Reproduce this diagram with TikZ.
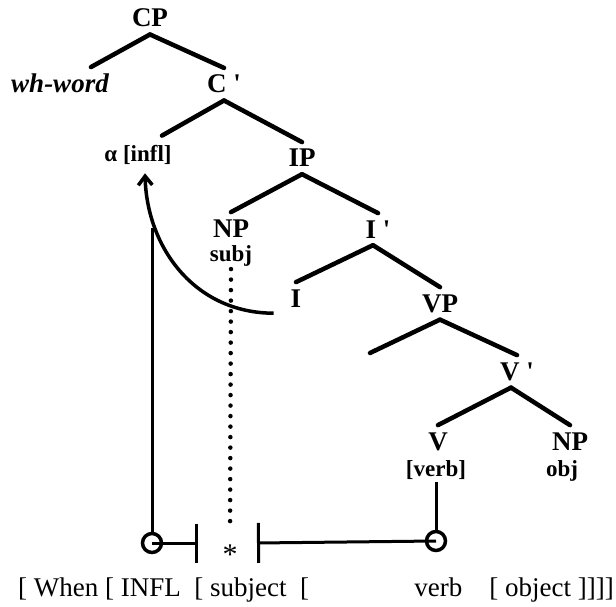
\documentclass[tikz,border=0pt]{standalone}
\usepackage{fontspec}
\setmainfont{Liberation Serif}
\usetikzlibrary{arrows.meta}

\tikzset{
  cat/.style={font=\fontsize{27}{30}\selectfont\bfseries, inner xsep=2pt, inner ysep=7pt, anchor=base},
  feat/.style={font=\fontsize{23}{26}\selectfont\bfseries, inner xsep=2pt, inner ysep=3pt, anchor=base},
  branch/.style={line width=4.5pt, line cap=round},
  link/.style={line width=3pt},
  ring/.style={circle, draw, line width=3.5pt, minimum size=19pt, inner sep=0pt},
  trace/.style={line width=4.5pt, line cap=round, dash pattern=on 0pt off 10.5pt},
}

\begin{document}
\begin{tikzpicture}[x=1pt,y=-1pt]
    \useasboundingbox (0,0) rectangle (616,607);

    % tree
    \node[cat] (cp) at (150,27) {CP};
    \node[cat, font=\fontsize{27}{30}\selectfont\bfseries\itshape] (whword) at (60,93) {wh-word};
    \node[cat] (cbar) at (224,93) {C \textquotesingle};
    \node[feat, inner ysep=9pt] (infl) at (138,161) {α [infl]};
    \node[cat] (ip) at (302,167) {IP};
    \node[cat] (npsubj) at (231,237) {NP};
    \node[feat] (subj) at (231,261) {subj};
    \node[cat] (ibar) at (378,238) {I \textquotesingle};
    \node[cat] (infnode) at (296,307) {I};
    \node[cat] (vp) at (440,312) {VP};
    \coordinate (vpspec) at (370,353);
    \node[cat] (vbar) at (517,380) {V \textquotesingle};
    \node[cat] (verbnode) at (438,450) {V};
    \node[feat] (verbfeat) at (436,476) {[verb]};
    \node[cat] (npobj) at (570,450) {NP};
    \node[feat] (obj) at (562,476) {obj};

    \draw[branch] (cp.south) -- ([xshift=-20pt]whword.north east);
    \draw[branch] (cp.south) -- (cbar.north);
    \draw[branch] (cbar.south) -- ([xshift=24pt]infl.north);
    \draw[branch] (cbar.south) -- (ip.north);
    \draw[branch] (ip.south) -- (npsubj.north);
    \draw[branch] (ip.south) -- (ibar.north);
    \draw[branch] ([xshift=-5pt]ibar.south) -- (infnode.north);
    \draw[branch] ([xshift=-5pt]ibar.south) -- (vp.north);
    \draw[branch] (vp.south) -- (vpspec);
    \draw[branch] (vp.south) -- (vbar.north);
    \draw[branch] ([xshift=-6pt]vbar.south) -- (verbnode.north);
    \draw[branch] ([xshift=-6pt]vbar.south) -- (npobj.north);

    % movement of I
    \draw[link, line width=3.5pt, -{Straight Barb[length=9pt, width=14pt]}] ([shift={(-15,-1)}]infnode.south west) .. controls (195,313) and (147,248) .. ([xshift=7pt]infl.south);

    % string
    \node[ring] (whenmark) at (152,543) {};
    \coordinate (inflbar) at (198,543);
    \node[anchor=base, inner sep=2pt, font=\fontsize{30}{32}\selectfont] (star) at (230,564) {*};
    \coordinate (subjbar) at (257,543);
    \node[ring] (verbmark) at (436,541) {};
    \coordinate (join) at (152,228);

    \draw[link] (join) -- (whenmark.north);
    \draw[link, -{Bar[width=39pt]}] (whenmark.center) -- (inflbar);
    \draw[link, {Bar[width=40pt]}-] (subjbar) -- (verbmark.center);
    \draw[link] (verbfeat.south) -- (verbmark.north);
    \draw[trace, shorten >=12pt] (subj.south) -- (star.north);

    \node[anchor=base west, inner sep=0pt, font=\fontsize{27}{30}\selectfont] (clause) at (18,596) {[ When [ INFL\ \ [ subject\ \ [};
    \node[anchor=base east, inner sep=0pt, font=\fontsize{27}{30}\selectfont] (vpclause) at (614,596) {verb\quad[ object ]]]]};

\end{tikzpicture}
\end{document}
